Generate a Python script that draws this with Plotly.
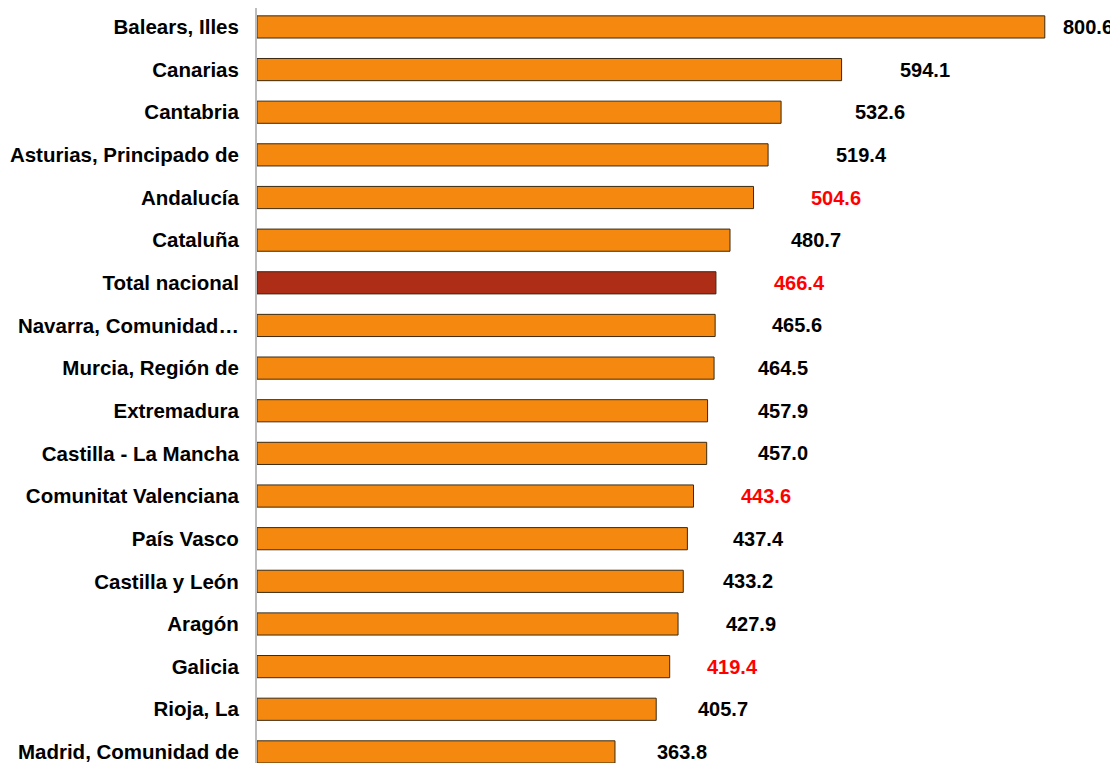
import plotly.graph_objects as go

regions = ["Balears, Illes", "Canarias", "Cantabria", "Asturias, Principado de", "Andalucía",
           "Cataluña", "Total nacional", "Navarra, Comunidad…", "Murcia, Región de", "Extremadura",
           "Castilla - La Mancha", "Comunitat Valenciana", "País Vasco", "Castilla y León",
           "Aragón", "Galicia", "Rioja, La", "Madrid, Comunidad de"]
values = [800.6, 594.1, 532.6, 519.4, 504.6, 480.7, 466.4, 465.6, 464.5, 457.9,
          457.0, 443.6, 437.4, 433.2, 427.9, 419.4, 405.7, 363.8]
highlight_labels = ["Andalucía", "Total nacional", "Comunitat Valenciana", "Galicia"]
total_name = "Total nacional"

# styling: pixel gaps of each value label from bar end (as placed in the original)
label_gap_px = [18, 58, 74, 68, 57, 61, 58, 57, 44, 50, 51, 47, 46, 40, 48, 37, 42, 42]

FONT = "Liberation Sans, Arial, sans-serif"
idx = list(range(len(regions)))
bar_colors = ["#AE2D16" if r == total_name else "#F5880E" for r in regions]

fig = go.Figure()
fig.add_trace(go.Bar(
    x=values, y=idx, orientation="h",
    marker=dict(color=bar_colors, line=dict(color="#3B2A12", width=1)),
    width=0.52, hoverinfo="x+y",
))

for i, (r, v) in enumerate(zip(regions, values)):
    fig.add_annotation(
        x=v, y=i, text=f"<b>{v:.1f}</b>", showarrow=False, xanchor="left", yanchor="middle",
        xshift=label_gap_px[i] - 2, yshift=0,
        font=dict(family=FONT, size=20,
                  color="#FF0000" if r in highlight_labels else "#000000"),
    )

fig.update_layout(
    width=1110, height=755,
    margin=dict(l=249, r=0, t=0, b=0, autoexpand=False),
    paper_bgcolor="white", plot_bgcolor="white",
    showlegend=False,
    font=dict(family=FONT, size=20, color="#000000"),
)
fig.update_xaxes(range=[0, 875], visible=False, showgrid=False, zeroline=False, automargin=False)
fig.update_yaxes(
    tickmode="array", tickvals=idx, ticktext=[f"<b>{r}</b>" for r in regions],
    range=[17.26, -0.444], showgrid=False, zeroline=False, automargin=False,
    showline=True, linecolor="#BDBDBD", linewidth=2, ticks="", ticklabelstandoff=12,
    ticklabeloverflow="allow",
    tickfont=dict(size=20.5, family=FONT),
)

fig.write_html("out.html")
